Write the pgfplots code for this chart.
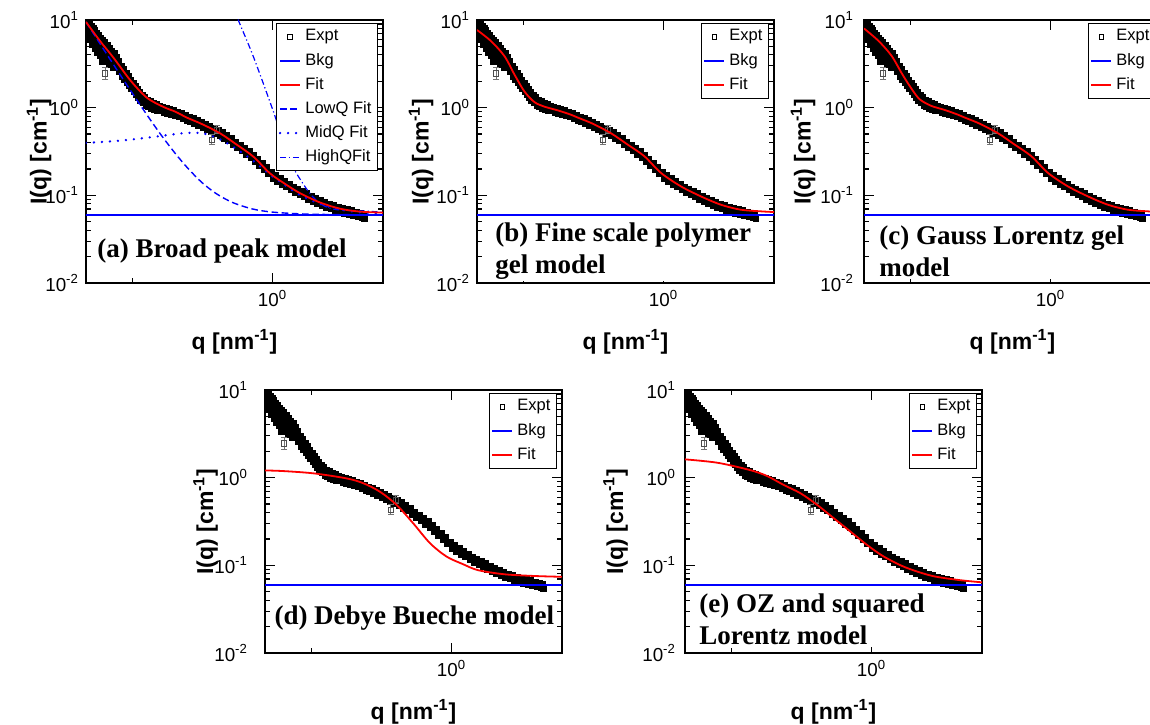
\documentclass[border=0pt]{standalone}
\usepackage{pgfplots}
\pgfplotsset{compat=1.18}
\usepackage{pgfplotstable}
\usepackage{fontspec}
\setmainfont{Liberation Sans}
\newfontfamily\serifb{Liberation Serif}
\definecolor{mblue}{rgb}{0,0,1}
\definecolor{mred}{rgb}{1,0,0}

\pgfplotstableread{
q I
0.2162 10.8
0.2160 10.5
0.2165 8.1
0.2175 9.8
0.2185 7.8
0.2195 9.4
0.2210 7.5
0.2215 6.0
0.2225 8.9
0.2240 7.1
0.2250 10.3
0.2255 8.4
0.2270 6.7
0.2280 5.3
0.2290 7.9
0.2305 6.3
0.2320 7.5
0.2330 4.7
0.2340 6.0
0.2360 7.0
0.2380 5.6
0.2385 4.3
0.2400 6.6
0.2420 5.2
0.2440 6.2
0.2445 3.9
0.2460 4.9
0.2475 3.4
0.2480 5.8
0.2500 4.6
0.2520 5.5
0.2545 4.3
0.2560 3.4
0.2570 5.1
0.2595 4.0
0.2620 4.7
0.2625 3.1
0.2645 3.7
0.2670 4.4
0.2695 3.5
0.2700 2.9
0.2720 4.1
0.2745 3.2
0.2770 3.7
0.2795 2.9
0.2820 3.35
0.2850 2.6
0.2880 2.95
0.2910 2.3
0.2940 2.7
0.2970 2.1
0.3000 2.45
0.3030 1.95
0.3060 2.25
0.3090 1.8
0.3120 2.05
0.3150 1.65
0.3180 1.9
0.3210 1.52
0.3240 1.74
0.3270 1.40
0.3300 1.6
0.3330 1.30
0.3360 1.48
0.3390 1.21
0.3420 1.38
0.3460 1.14
0.3500 1.29
0.3540 1.07
0.3580 1.21
0.3620 1.03
0.3660 1.16
0.3700 0.99
0.3750 1.11
0.3800 0.96
0.3850 1.07
0.3900 0.93
0.3950 1.04
0.4000 0.92
0.4060 1.0
0.4120 0.89
0.4180 0.975
0.4240 0.87
0.4300 0.945
0.4370 0.84
0.4440 0.915
0.4510 0.815
0.4580 0.89
0.4650 0.79
0.4720 0.85
0.4800 0.755
0.4880 0.815
0.4960 0.72
0.5040 0.78
0.5120 0.69
0.5200 0.745
0.5290 0.66
0.5380 0.71
0.5470 0.627
0.5560 0.677
0.5660 0.60
0.5760 0.645
0.5860 0.57
0.5960 0.614
0.6070 0.54
0.6180 0.583
0.6290 0.513
0.6400 0.551
0.6510 0.485
0.6630 0.515
0.6750 0.451
0.6870 0.478
0.7000 0.418
0.7120 0.441
0.7250 0.385
0.7380 0.404
0.7520 0.352
0.7660 0.373
0.7800 0.323
0.7940 0.341
0.8090 0.295
0.8240 0.312
0.8390 0.27
0.8540 0.286
0.8700 0.245
0.8860 0.257
0.9020 0.221
0.9190 0.232
0.9360 0.198
0.9530 0.206
0.9700 0.176
0.9880 0.184
1.006 0.158
1.025 0.168
1.044 0.146
1.063 0.155
1.083 0.135
1.103 0.144
1.124 0.125
1.145 0.133
1.166 0.117
1.188 0.124
1.210 0.108
1.232 0.1165
1.255 0.1026
1.278 0.110
1.302 0.097
1.326 0.104
1.351 0.0907
1.376 0.0977
1.401 0.086
1.427 0.0924
1.454 0.0812
1.481 0.0877
1.509 0.0774
1.537 0.0835
1.565 0.0736
1.594 0.0793
1.624 0.0703
1.654 0.0761
1.685 0.0675
1.716 0.0732
1.748 0.065
1.781 0.0706
1.814 0.0627
1.848 0.0683
1.882 0.0608
1.917 0.0662
1.953 0.0589
1.989 0.0643
2.026 0.0573
2.064 0.0625
2.100 0.0556
2.115 0.0600
2.130 0.0545
}\expt

\pgfplotstableread{
q I ep em
0.253 2.45 0.45 0.35
0.608 0.43 0.07 0.05
0.633 0.56 0.06 0.05
}\errs

\pgfplotsset{
  scale only axis, clip marker paths=true,
  width=148.5pt, height=131.5pt,
  xmin=0.216, xmax=2.48, ymin=0.01, ymax=10,
  xtick={1}, xticklabels={10\textsuperscript{0}},
  minor xtick={0.3162},
  ytick={0.01,0.1,1,10},
  yticklabels={10\textsuperscript{-2},10\textsuperscript{-1},10\textsuperscript{0},10\textsuperscript{1}},
  minor ytick={0.02,0.03,0.04,0.05,0.06,0.07,0.08,0.09,0.2,0.3,0.4,0.5,0.6,0.7,0.8,0.9,2,3,4,5,6,7,8,9},
  tick align=inside, major tick length=5pt, minor tick length=2.5pt,
  axis line style={line width=1pt},
  every tick/.style={black, line width=0.6pt},
  tick label style={font=\fontsize{9.4}{11}\selectfont},
  xlabel={q [nm\textsuperscript{-1}]},
  ylabel={I(q) [cm\textsuperscript{-1}]},
  label style={font=\fontsize{11.5}{13}\selectfont\bfseries},
  xlabel style={at={(axis description cs:0.5,-0.224)}, anchor=center},
  legend style={at={(1,1)}, anchor=north east, xshift=-2.5pt, yshift=-1.5pt,
    font=\fontsize{8.25}{9.5}\selectfont, draw=black, line width=0.6pt,
    fill=white, inner sep=1pt, row sep=0.6pt, cells={anchor=west}},
  legend image code/.code={\draw[mark repeat=2,mark phase=2,#1] plot coordinates {(0pt,0pt) (5pt,0pt) (10pt,0pt)};},
  fitstyle/.style={mred, line width=0.9pt, smooth},
  lowstyle/.style={mblue, line width=0.7pt, dash pattern=on 3.3pt off 1.8pt, smooth},
  midstyle/.style={mblue, line width=1.3pt, line cap=round, dash pattern=on 0pt off 4pt, smooth},
  highstyle/.style={mblue, line width=0.6pt, dash pattern=on 3pt off 1.4pt on 0.6pt off 1.4pt, smooth},
}
\tikzset{mylbl/.style={font={\serifb\bfseries\fontsize{13.5}{16}\selectfont}, anchor=west, align=left, inner sep=1pt, fill=white}}

\newcommand{\dataplots}{%
  \addlegendimage{only marks, mark=square, mark size=1.1pt, black, line width=0.45pt}
  \addlegendentry{Expt}
  \addplot[only marks, mark=square*, mark size=1.5pt, black, fill=black, line width=0.6pt, forget plot] table[x=q, y=I] {\expt};
  \addplot[only marks, mark=square, mark size=1.3pt, black!70, line width=0.5pt, forget plot,
    error bars/.cd, y dir=both, y explicit,
    error bar style={black!55, line width=0.5pt},
    error mark options={rotate=90, mark size=1.6pt, black!55}]
    table[x=q, y=I, y error plus=ep, y error minus=em] {\errs};
  \addplot[mblue, line width=1pt] coordinates {(0.2,0.06) (2.6,0.06)};
  \addlegendentry{Bkg}
}

\begin{document}
\begin{tikzpicture}
\useasboundingbox (0,0) rectangle (575pt,362pt);
\clip (0,0) rectangle (575pt,362pt);

% (a)
\begin{loglogaxis}[anchor=south west, at={(43pt,220.5pt)},
  ylabel style={at={(axis description cs:-0.158,0.5)}, anchor=center}]
  \dataplots
  \addlegendimage{fitstyle}
  \addlegendentry{Fit}
  \addlegendimage{lowstyle}
  \addlegendentry{LowQ Fit}
  \addlegendimage{midstyle}
  \addlegendentry{MidQ Fit}
  \addlegendimage{highstyle}
  \addlegendentry{HighQFit}
  \addplot[lowstyle, forget plot] coordinates {
    (0.216,9.48) (0.243,5.29) (0.271,3.09) (0.30,1.88) (0.33,1.19) (0.36,0.79) (0.40,0.49)
    (0.45,0.30) (0.50,0.202) (0.56,0.140) (0.63,0.1046) (0.72,0.0829) (0.85,0.0698)
    (1.0,0.0644) (1.3,0.0612) (1.8,0.0602) (2.48,0.0601)};
  \addplot[midstyle, forget plot] coordinates {
    (0.216,0.396) (0.285,0.42) (0.374,0.463) (0.44,0.495) (0.492,0.514) (0.564,0.51)
    (0.646,0.44) (0.741,0.34) (0.85,0.25) (0.98,0.172) (1.117,0.128) (1.253,0.101)
    (1.476,0.080) (1.74,0.069) (2.05,0.064) (2.48,0.062)};
  \addplot[highstyle, forget plot] coordinates {
    (0.70,19) (0.755,10) (0.854,3.85) (1.007,0.907) (1.154,0.25) (1.287,0.135)
    (1.398,0.095) (1.517,0.077) (1.693,0.0687) (2.22,0.0657) (2.48,0.064)};
  \addplot[fitstyle, forget plot] coordinates {
    (0.216,9.5) (0.243,5.7) (0.271,3.7) (0.311,2.05) (0.356,1.3) (0.408,1.02)
    (0.45,0.90) (0.495,0.77) (0.56,0.65) (0.65,0.51) (0.746,0.378) (0.855,0.276)
    (0.98,0.178) (1.117,0.133) (1.253,0.106) (1.476,0.083) (1.74,0.0705) (2.05,0.0652) (2.48,0.0635)};
  \node[mylbl] at (rel axis cs:0.03,0.122) {(a) Broad peak model};
\end{loglogaxis}

% (b)
\begin{loglogaxis}[anchor=south west, at={(238.5pt,220.5pt)},
  ylabel style={at={(axis description cs:-0.188,0.5)}, anchor=center}]
  \dataplots
  \addplot[fitstyle] coordinates {
    (0.216,7.7) (0.243,5.7) (0.271,3.85) (0.294,2.38) (0.319,1.53) (0.346,1.16) (0.375,1.03)
    (0.42,0.93) (0.468,0.83) (0.495,0.77) (0.56,0.655) (0.65,0.51) (0.746,0.378) (0.855,0.279)
    (0.98,0.18) (1.152,0.127) (1.358,0.0975) (1.60,0.0783) (1.88,0.0687) (2.22,0.0657) (2.48,0.0645)};
  \addlegendentry{Fit}
  \node[mylbl] at (rel axis cs:0.054,0.122) {(b) Fine scale polymer\\gel model};
\end{loglogaxis}

% (c)
\begin{loglogaxis}[anchor=south west, at={(432pt,220.5pt)},
  yticklabel style={xshift=-1.5pt},
  ylabel style={at={(axis description cs:-0.205,0.5)}, anchor=center}]
  \dataplots
  \addplot[fitstyle] coordinates {
    (0.216,8.0) (0.243,5.8) (0.271,3.9) (0.296,2.4) (0.321,1.6) (0.342,1.24) (0.375,1.05)
    (0.42,0.94) (0.468,0.83) (0.495,0.77) (0.56,0.655) (0.65,0.51) (0.746,0.378) (0.855,0.279)
    (0.98,0.18) (1.152,0.127) (1.358,0.0975) (1.60,0.0783) (1.88,0.0687) (2.22,0.0657) (2.48,0.0645)};
  \addlegendentry{Fit}
  \node[mylbl] at (rel axis cs:0.044,0.12) {(c) Gauss Lorentz gel\\model};
\end{loglogaxis}

% (d)
\begin{loglogaxis}[anchor=south west, at={(132.5pt,35.5pt)},
  yticklabel style={xshift=-5pt},
  ylabel style={at={(axis description cs:-0.2,0.5)}, anchor=center}]
  \dataplots
  \addplot[fitstyle] coordinates {
    (0.213,1.21) (0.25,1.19) (0.322,1.12) (0.423,0.98) (0.485,0.863) (0.556,0.69)
    (0.637,0.489) (0.730,0.302) (0.838,0.179) (0.96,0.126) (1.10,0.103) (1.245,0.088)
    (1.55,0.079) (2.0,0.0755) (2.48,0.074)};
  \addlegendentry{Fit}
  \node[mylbl] at (rel axis cs:0.024,0.133) {(d) Debye Bueche model};
\end{loglogaxis}

% (e)
\begin{loglogaxis}[anchor=south west, at={(342.5pt,35.5pt)},
  yticklabel style={xshift=-1pt},
  ylabel style={at={(axis description cs:-0.234,0.5)}, anchor=center}]
  \dataplots
  \addplot[fitstyle] coordinates {
    (0.215,1.62) (0.282,1.48) (0.369,1.22) (0.424,1.045) (0.486,0.826) (0.558,0.664)
    (0.640,0.489) (0.734,0.344) (0.842,0.242) (0.964,0.171) (1.106,0.126) (1.32,0.095)
    (1.64,0.076) (2.05,0.068) (2.48,0.064)};
  \addlegendentry{Fit}
  \node[mylbl] at (rel axis cs:0.04,0.129) {(e) OZ and squared\\Lorentz model};
\end{loglogaxis}
\end{tikzpicture}
\end{document}
